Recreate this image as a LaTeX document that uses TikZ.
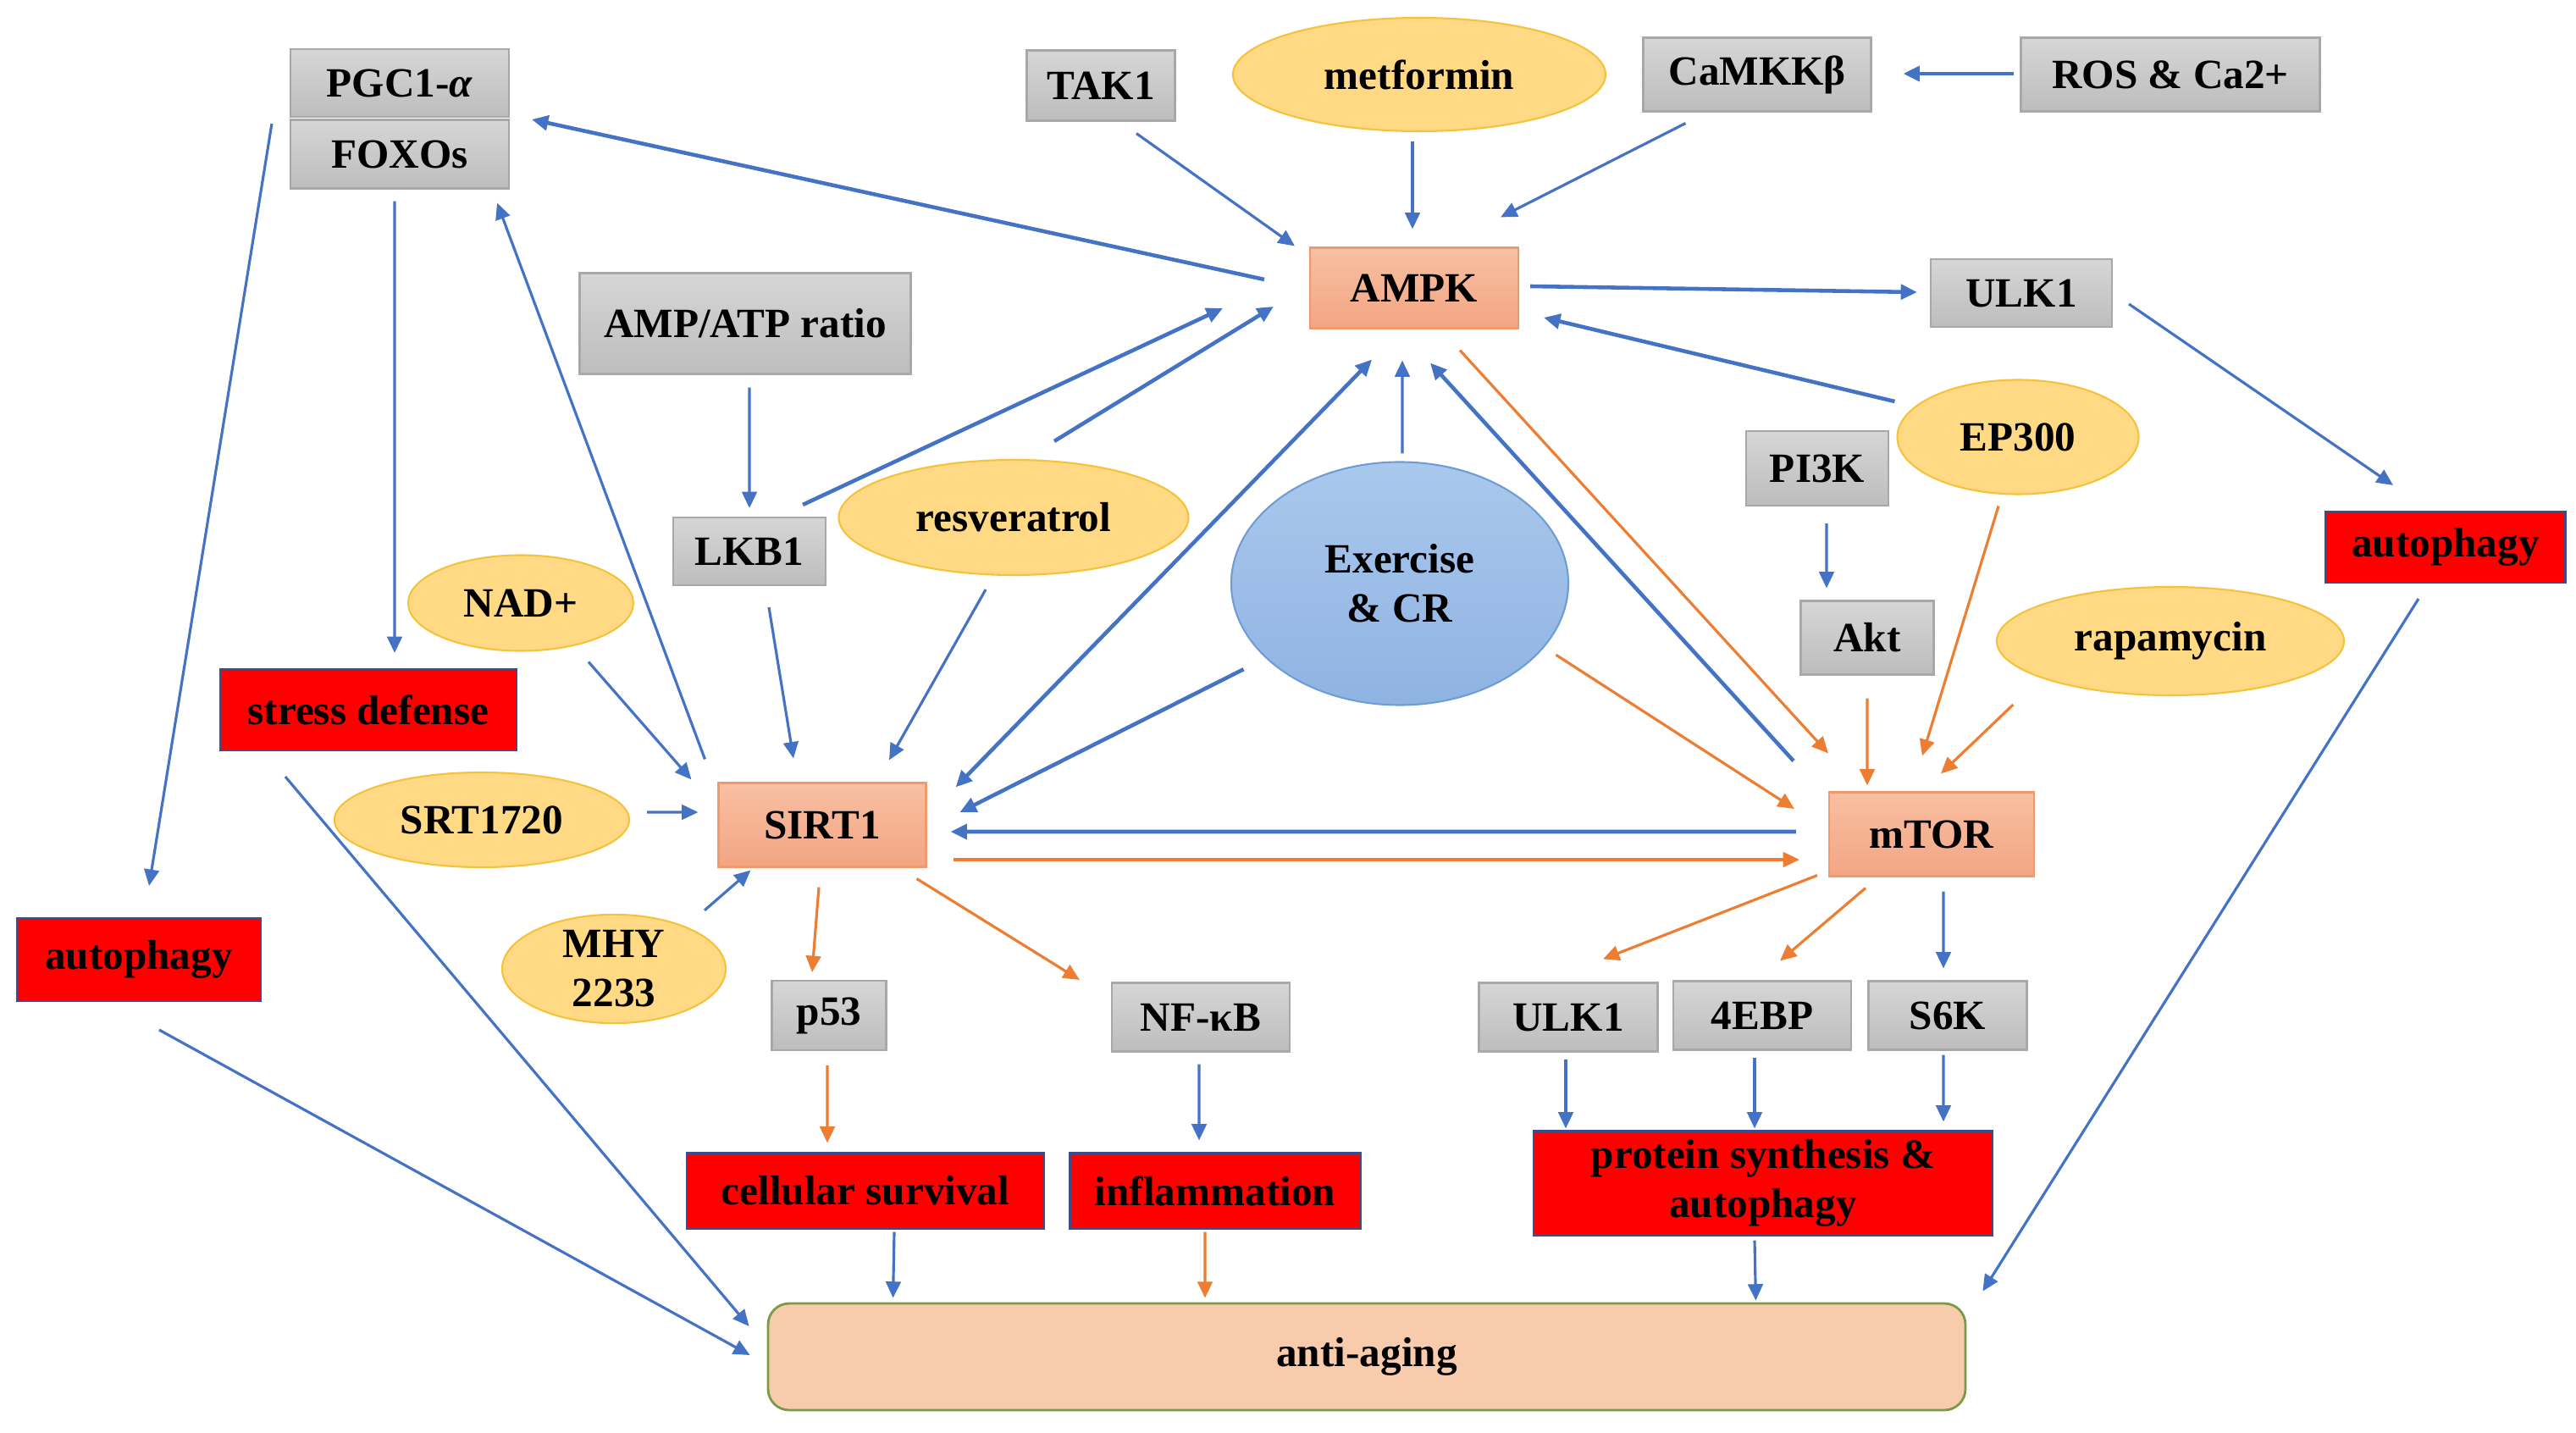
\documentclass[tikz,border=0pt]{standalone}
\usepackage{fontspec}
\setmainfont{Liberation Serif}
\usetikzlibrary{arrows.meta,shapes.geometric}

\definecolor{arrowblue}{HTML}{4472C4}
\definecolor{arroworange}{HTML}{ED7D31}
\definecolor{graytop}{HTML}{D6D6D6}
\definecolor{graybot}{HTML}{BDBDBD}
\definecolor{grayline}{HTML}{A8A8A8}
\definecolor{salmontop}{HTML}{F8C0A2}
\definecolor{salmonbot}{HTML}{F3A583}
\definecolor{salmonline}{HTML}{EE9A6C}
\definecolor{yellfill}{HTML}{FFD983}
\definecolor{yellline}{HTML}{F4C23C}
\definecolor{extop}{HTML}{A9C8EC}
\definecolor{exbot}{HTML}{8FB3E2}
\definecolor{exline}{HTML}{709CD6}
\definecolor{redline}{HTML}{3A4E8C}
\definecolor{antifill}{HTML}{F8CBAD}
\definecolor{antiline}{HTML}{7A9A4A}

\tikzset{
  gbox/.style={rectangle,draw=grayline,line width=0.6pt,top color=graytop,bottom color=graybot,inner sep=0pt},
  obox/.style={rectangle,draw=salmonline,line width=0.6pt,top color=salmontop,bottom color=salmonbot,inner sep=0pt},
  rbox/.style={rectangle,draw=redline,line width=0.6pt,fill=red,inner sep=0pt,align=center},
  yell/.style={ellipse,draw=yellline,line width=0.6pt,fill=yellfill,inner sep=0pt,align=center},
  barrow/.style={->,draw=arrowblue,line width=0.9pt},
  oarrow/.style={->,draw=arroworange,line width=0.9pt},
  wide/.style={line width=1.3pt}
}

\begin{document}
\begin{tikzpicture}[x=1cm, y=-1cm, >={Triangle[length=5.5pt,width=5pt]},
    font=\fontsize{14}{16.5}\selectfont\bfseries]
  \useasboundingbox (0,0) rectangle (30.42,16.92);

  % 灰色方框
  \foreach \n/\l/\x/\y/\w/\h in {
      pgc/{PGC1-\textit{α}}/4.72/0.98/2.58/0.80,
      foxo/FOXOs/4.72/1.82/2.58/0.81,
      tak/TAK1/13.00/1.01/1.75/0.83,
      camkk/CaMKKβ/20.75/0.88/2.69/0.87,
      ros/{ROS \& Ca2+}/25.63/0.88/3.53/0.87,
      ulk-top/ULK1/23.87/3.46/2.14/0.80,
      amp/{AMP/ATP ratio}/8.80/3.82/3.91/1.19,
      pik/PI3K/21.46/5.53/1.68/0.88,
      lkb/LKB1/8.85/6.51/1.80/0.80,
      akt/Akt/22.05/7.53/1.57/0.87,
      p53/p53/9.79/11.99/1.35/0.82,
      nfkb/NF-κB/14.18/12.01/2.10/0.81,
      ulk-bot/ULK1/18.52/12.01/2.11/0.81,
      ebp/4EBP/20.81/11.99/2.10/0.81,
      s6k/S6K/23.00/11.99/1.87/0.81}
      \node [gbox,minimum width=\w cm,minimum height=\h cm] (\n) at (\x,\y) {\l};

  % 核心
  \foreach \n/\l/\x/\y/\w/\h in {
      ampk/AMPK/16.70/3.40/2.46/0.95,
      sirt/SIRT1/9.71/9.74/2.45/0.99,
      mtor/mTOR/22.81/9.85/2.42/0.99}
      \node [obox,minimum width=\w cm,minimum height=\h cm] (\n) at (\x,\y) {\l};

  % 药物
  \foreach \n/\l/\x/\y/\w/\h in {
      metf/metformin/16.76/0.88/4.40/1.34,
      resv/resveratrol/11.97/6.11/4.13/1.36,
      ep/EP300/23.83/5.16/2.85/1.35,
      nad/NAD+/6.15/7.12/2.66/1.13,
      rapa/rapamycin/25.63/7.57/4.10/1.28,
      srt/SRT1720/5.69/9.68/3.48/1.12,
      mhy/{MHY\\2233}/7.25/11.44/2.64/1.14}
      \node [yell,minimum width=\w cm,minimum height=\h cm] (\n) at (\x,\y) {\l};

  \node [ellipse,draw=exline,line width=0.6pt,top color=extop,bottom color=exbot,align=center,
         inner sep=0pt,minimum width=3.98cm,minimum height=2.87cm] (ex) at (16.53,6.89) {Exercise\\\& CR};

  % 结果
  \foreach \n/\l/\x/\y/\w/\h in {
      stress/{stress defense}/4.35/8.38/3.50/0.96,
      auto-left/autophagy/1.64/11.33/2.88/0.98,
      auto-right/autophagy/28.88/6.46/2.83/0.84,
      cell/{cellular survival}/10.22/14.06/4.22/0.89,
      infl/inflammation/14.35/14.06/3.43/0.89,
      prot/{protein synthesis \&\\autophagy}/20.82/13.97/5.42/1.23}
      \node [rbox,minimum width=\w cm,minimum height=\h cm] (\n) at (\x,\y) {\l};

  \node [draw=antiline,line width=0.8pt,fill=antifill,rounded corners=0.25cm,
         minimum width=14.14cm,minimum height=1.26cm] (anti) at (16.14,16.02) {anti-aging};

  % 连接（蓝）
  \draw [barrow] ([shift={(-0.21,0.07)}]pgc.south west) -- ([shift={(0.12,-0.37)}]auto-left.north);
  \draw [barrow] ([shift={(-0.06,0.14)}]foxo.south) -- ([shift={(0.31,-0.18)}]stress.north);
  \draw [barrow,wide] ([shift={(-0.53,-0.10)}]ampk.west) -- ([shift={(0.26,0.02)}]pgc.south east);
  \draw [barrow] ([shift={(-0.15,-0.27)}]sirt.north west) -- ([shift={(-0.15,0.16)}]foxo.south east);
  \draw [barrow] ([shift={(0.05,0.15)}]amp.south) -- ([shift={(0,-0.10)}]lkb.north);
  \draw [barrow,wide] ([shift={(-0.28,-0.14)}]lkb.north east) -- ([shift={(-1.02,0.24)}]ampk.west);
  \draw [barrow,wide] ([shift={(0.48,-0.21)}]resv.north) -- ([shift={(-0.42,0.22)}]ampk.west);
  \draw [barrow] ([shift={(-0.33,0.16)}]resv.south) -- ([shift={(0.79,-0.26)}]sirt.north);
  \draw [barrow] ([shift={(0.23,0.25)}]lkb.south) -- ([shift={(-0.34,-0.28)}]sirt.north);
  \draw [barrow] ([shift={(0.80,0.12)}]nad.south) -- ([shift={(-0.31,-0.03)}]sirt.north west);
  \draw [barrow] ([shift={(0.20,-0.09)}]srt.east) -- ([shift={(-0.23,-0.15)}]sirt.west);
  \draw [barrow] ([shift={(1.07,-0.04)}]mhy.north) -- ([shift={(0.39,0.03)}]sirt.south west);
  \draw [barrow,wide,<->] ([shift={(0.34,0.06)}]sirt.north east) -- ([shift={(-0.50,0.36)}]ampk.south);
  \draw [barrow,wide] ([shift={(-0.43,-0.01)}]ex.south west) -- ([shift={(0.39,-0.15)}]sirt.east);
  \draw [barrow] ([shift={(0.03,-0.09)}]ex.north) -- ([shift={(-0.14,0.37)}]ampk.south);
  \draw [barrow,wide] ([shift={(-0.41,-0.36)}]mtor.north west) -- ([shift={(0.19,0.40)}]ampk.south);
  \draw [barrow,wide] ([shift={(-0.38,-0.03)}]mtor.west) -- ([shift={(0.28,0.08)}]sirt.east);
  \draw [barrow] ([shift={(0.42,0.14)}]tak.south) -- ([shift={(-0.17,-0.01)}]ampk.north west);
  \draw [barrow] ([shift={(-0.08,0.11)}]metf.south) -- ([shift={(-0.02,-0.21)}]ampk.north);
  \draw [barrow] ([shift={(0.51,0.13)}]camkk.south west) -- ([shift={(-0.22,-0.35)}]ampk.north east);
  \draw [barrow,wide] ([shift={(-0.07,-0.01)}]ros.west) -- ([shift={(0.37,-0.01)}]camkk.east);
  \draw [barrow,wide] ([shift={(0.13,-0.02)}]ampk.east) -- ([shift={(-0.15,-0.01)}]ulk-top.west);
  \draw [barrow] ([shift={(0.19,0.13)}]ulk-top.east) -- ([shift={(-0.62,-0.30)}]auto-right.north);
  \draw [barrow,wide] ([shift={(-0.02,-0.42)}]ep.west) -- ([shift={(0.29,0.35)}]ampk.east);
  \draw [barrow] ([shift={(0.11,0.20)}]pik.south) -- ([shift={(-0.48,-0.14)}]akt.north);
  \draw [barrow] ([shift={(0.14,0.17)}]mtor.south) -- ([shift={(-0.05,-0.14)}]s6k.north);
  \draw [barrow] ([shift={(-0.02,0.14)}]nfkb.south) -- ([shift={(-0.19,-0.14)}]infl.north);
  \draw [barrow] ([shift={(-0.03,0.08)}]ulk-bot.south) -- ([shift={(-2.33,-0.02)}]prot.north);
  \draw [barrow] ([shift={(-0.09,0.08)}]ebp.south) -- ([shift={(-0.10,-0.02)}]prot.north);
  \draw [barrow] ([shift={(-0.05,0.05)}]s6k.south) -- ([shift={(2.13,-0.10)}]prot.north);
  \draw [barrow] ([shift={(0.34,0.03)}]cell.south) -- ([shift={(1.49,-0.05)}]anti.north west);
  \draw [barrow] ([shift={(-0.10,0.05)}]prot.south) -- ([shift={(-2.49,-0.02)}]anti.north east);
  \draw [barrow] ([shift={(-0.32,0.18)}]auto-right.south) -- ([shift={(0.19,-0.13)}]anti.north east);
  \draw [barrow] ([shift={(0.78,0.30)}]stress.south west) -- ([shift={(-0.21,-0.36)}]anti.west);
  \draw [barrow] ([shift={(0.24,0.33)}]auto-left.south) -- ([shift={(-0.20,-0.02)}]anti.west);

  % 连接（橙）
  \draw [oarrow] ([shift={(0.54,0.25)}]ampk.south) -- ([shift={(0,-0.45)}]mtor.north west);
  \draw [oarrow] ([shift={(0.43,-0.18)}]ex.south east) -- ([shift={(-0.40,-0.30)}]mtor.west);
  \draw [oarrow] ([shift={(0.31,0.41)}]sirt.east) -- ([shift={(-0.34,0.30)}]mtor.west);
  \draw [oarrow] ([shift={(0,0.27)}]akt.south) -- ([shift={(-0.76,-0.07)}]mtor.north);
  \draw [oarrow] ([shift={(-0.23,0.13)}]ep.south) -- ([shift={(-0.11,-0.42)}]mtor.north);
  \draw [oarrow] ([shift={(-0.40,0.29)}]rapa.south west) -- ([shift={(0.11,-0.21)}]mtor.north);
  \draw [oarrow] ([shift={(-0.13,-0.02)}]mtor.south west) -- ([shift={(0.41,-0.27)}]ulk-bot.north);
  \draw [oarrow] ([shift={(-0.78,0.13)}]mtor.south) -- ([shift={(0.21,-0.23)}]ebp.north);
  \draw [oarrow] ([shift={(-0.04,0.23)}]sirt.south) -- ([shift={(-0.20,-0.09)}]p53.north);
  \draw [oarrow] ([shift={(-0.12,0.13)}]sirt.south east) -- ([shift={(-0.37,-0.44)}]nfkb.west);
  \draw [oarrow] ([shift={(-0.02,0.17)}]p53.south) -- ([shift={(-0.45,-0.11)}]cell.north);
  \draw [oarrow] ([shift={(-0.12,0.03)}]infl.south) -- ([shift={(-1.91,-0.05)}]anti.north);

\end{tikzpicture}
\end{document}
